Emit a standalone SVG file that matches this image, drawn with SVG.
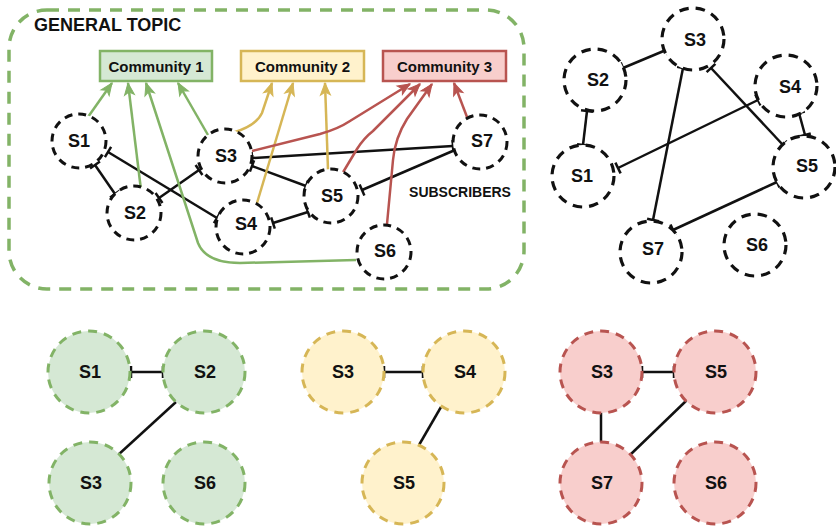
<svg xmlns="http://www.w3.org/2000/svg" width="836" height="527" viewBox="0 0 836 527">
<style>
text{font-family:"Liberation Sans",Arial,Helvetica,sans-serif;font-weight:bold;fill:#111;text-anchor:middle;dominant-baseline:central}
.lbl{font-size:18px}
.com{font-size:15px}
.n{fill:#fff;stroke:#111;stroke-width:3;stroke-dasharray:8 6}
.nr{fill:#fff;stroke:#111;stroke-width:3.2;stroke-dasharray:9.5 7}
.g{fill:#d5e8d4;stroke:#82b366;stroke-width:3;stroke-dasharray:9 7}
.y{fill:#fff2cc;stroke:#d6b656;stroke-width:3;stroke-dasharray:9 7}
.r{fill:#f8cecc;stroke:#b85450;stroke-width:3;stroke-dasharray:9 7}
.e{fill:none;stroke:#111;stroke-width:2.5;marker-start:url(#tick);marker-end:url(#tick)}
.ag{fill:none;stroke:#82b366;stroke-width:2.5;marker-end:url(#arG)}
.ay{fill:none;stroke:#d6b656;stroke-width:2.5;marker-end:url(#arY)}
.ar{fill:none;stroke:#b85450;stroke-width:2.5;marker-end:url(#arR)}
</style>
<defs>
<marker id="tick" markerUnits="userSpaceOnUse" markerWidth="4" markerHeight="14" refX="0" refY="7" orient="auto" overflow="visible">
<path d="M0,1 L0,13" stroke="#111" stroke-width="2.5"/>
</marker>
<marker id="arG" markerUnits="userSpaceOnUse" markerWidth="13" markerHeight="11" refX="12" refY="5" orient="auto" overflow="visible">
<path d="M0,0 L12,5 L0,10 L3,5 z" fill="#82b366" stroke="#82b366" stroke-width="1"/>
</marker>
<marker id="arY" markerUnits="userSpaceOnUse" markerWidth="13" markerHeight="11" refX="12" refY="5" orient="auto" overflow="visible">
<path d="M0,0 L12,5 L0,10 L3,5 z" fill="#d6b656" stroke="#d6b656" stroke-width="1"/>
</marker>
<marker id="arR" markerUnits="userSpaceOnUse" markerWidth="13" markerHeight="11" refX="12" refY="5" orient="auto" overflow="visible">
<path d="M0,0 L12,5 L0,10 L3,5 z" fill="#b85450" stroke="#b85450" stroke-width="1"/>
</marker>
</defs>

<g id="general-topic">
<rect x="9" y="10" width="515" height="279" rx="38" ry="38" fill="none" stroke="#82b366" stroke-width="3.5" stroke-dasharray="12 9"/>
<text x="34" y="25" style="font-size:18px;text-anchor:start">GENERAL TOPIC</text>
<text x="460" y="192" style="font-size:14px">SUBSCRIBERS</text>
</g>

<g id="community1"><rect x="100" y="51" width="112" height="30" fill="#d5e8d4" stroke="#82b366" stroke-width="2.5"/><text class="com" x="156" y="66">Community 1</text></g>
<g id="community2"><rect x="241" y="51" width="123" height="30" fill="#fff2cc" stroke="#d6b656" stroke-width="2.5"/><text class="com" x="302.5" y="66">Community 2</text></g>
<g id="community3"><rect x="383" y="51" width="123" height="30" fill="#f8cecc" stroke="#b85450" stroke-width="2.5"/><text class="com" x="444.5" y="66">Community 3</text></g>

<g id="connectors">
<!-- top-left black edges -->
<path class="e" d="M95,165 L115,194"/>
<path class="e" d="M108,152 L217,218"/>
<path class="e" d="M159,198 L199,170"/>
<path class="e" d="M252,158 L453,146"/>
<path class="e" d="M252,166 L306,186"/>
<path class="e" d="M273,223 L308,212"/>
<path class="e" d="M362,190 L455,150"/>
<!-- green arrows -->
<path class="ag" d="M88,117 L112,83"/>
<path class="ag" d="M141,190 L128,83"/>
<path class="ag" d="M356,260 L240,263 Q206,263 198,243 L146,83"/>
<path class="ag" d="M208,135 L178,83"/>
<!-- yellow arrows -->
<path class="ay" d="M232,133 Q256,126 262,113 L272,83"/>
<path class="ay" d="M257,203 L293,83"/>
<path class="ay" d="M328,170 L325,83"/>
<!-- red arrows -->
<path class="ar" d="M252,151 L320,134 Q338,129 350,121 L410,84"/>
<path class="ar" d="M342,174 L357,149 Q364,138 373,131 L420,84"/>
<path class="ar" d="M387,224 L393,160 Q395,138 407,119 L432,84"/>
<path class="ar" d="M467,117 L454,83"/>
<!-- right panel edges -->
<path class="e" d="M623,68 L666,50"/>
<path class="e" d="M583,145 L587,111"/>
<path class="e" d="M683,68 L653,220"/>
<path class="e" d="M711,68 L783,145"/>
<path class="e" d="M618,168 L758,100"/>
<path class="e" d="M799,113 L805,135"/>
<path class="e" d="M777,182 L673,230"/>
<!-- bottom edges -->
<path class="e" d="M131,372 L163,372"/>
<path d="M176,402 L118,455" stroke="#111" stroke-width="2.5" fill="none"/>
<path class="e" d="M384,372 L423,372"/>
<path d="M441,407 L419,445" stroke="#111" stroke-width="2.5" fill="none"/>
<path class="e" d="M642,372 L674,372"/>
<path d="M601,412 L601,443" stroke="#111" stroke-width="2.5" fill="none"/>
<path d="M687,400 L630,455" stroke="#111" stroke-width="2.5" fill="none"/>
</g>

<!-- top-left nodes -->
<g id="tl-s1"><circle class="n" cx="79" cy="141" r="27"/><text class="lbl" x="79" y="141">S1</text></g>
<g id="tl-s2"><circle class="n" cx="134" cy="213" r="27"/><text class="lbl" x="135" y="213">S2</text></g>
<g id="tl-s3"><circle class="n" cx="225" cy="156" r="27"/><text class="lbl" x="226" y="156">S3</text></g>
<g id="tl-s4"><circle class="n" cx="243" cy="227" r="27"/><text class="lbl" x="246" y="224">S4</text></g>
<g id="tl-s5"><circle class="n" cx="331" cy="196" r="27"/><text class="lbl" x="332" y="196">S5</text></g>
<g id="tl-s6"><circle class="n" cx="384" cy="252" r="27"/><text class="lbl" x="385" y="251">S6</text></g>
<g id="tl-s7"><circle class="n" cx="480" cy="142" r="27"/><text class="lbl" x="482" y="141">S7</text></g>

<!-- right panel nodes -->
<g id="r-s1"><circle class="nr" cx="583" cy="176" r="31"/><text class="lbl" x="582" y="176">S1</text></g>
<g id="r-s2"><circle class="nr" cx="595" cy="80" r="31"/><text class="lbl" x="598" y="80">S2</text></g>
<g id="r-s3"><circle class="nr" cx="693" cy="39" r="31"/><text class="lbl" x="695" y="40">S3</text></g>
<g id="r-s4"><circle class="nr" cx="786" cy="86" r="31"/><text class="lbl" x="790" y="87">S4</text></g>
<g id="r-s5"><circle class="nr" cx="804" cy="167" r="31"/><text class="lbl" x="807" y="166">S5</text></g>
<g id="r-s6"><circle class="nr" cx="755" cy="245" r="31"/><text class="lbl" x="757" y="245">S6</text></g>
<g id="r-s7"><circle class="nr" cx="651" cy="252" r="31"/><text class="lbl" x="653" y="249">S7</text></g>

<!-- bottom green -->
<g id="g-s1"><circle class="g" cx="89" cy="372" r="41"/><text class="lbl" x="90" y="372">S1</text></g>
<g id="g-s2"><circle class="g" cx="204" cy="372" r="41"/><text class="lbl" x="205" y="372">S2</text></g>
<g id="g-s3"><circle class="g" cx="90" cy="483" r="41"/><text class="lbl" x="91" y="483">S3</text></g>
<g id="g-s6"><circle class="g" cx="204" cy="483" r="41"/><text class="lbl" x="205" y="483">S6</text></g>
<!-- bottom yellow -->
<g id="y-s3"><circle class="y" cx="343" cy="372" r="41"/><text class="lbl" x="343" y="372">S3</text></g>
<g id="y-s4"><circle class="y" cx="464" cy="372" r="41"/><text class="lbl" x="465" y="372">S4</text></g>
<g id="y-s5"><circle class="y" cx="403" cy="483" r="41"/><text class="lbl" x="404" y="483">S5</text></g>
<!-- bottom red -->
<g id="r2-s3"><circle class="r" cx="601" cy="372" r="41"/><text class="lbl" x="602" y="372">S3</text></g>
<g id="r2-s5"><circle class="r" cx="715" cy="372" r="41"/><text class="lbl" x="716" y="372">S5</text></g>
<g id="r2-s7"><circle class="r" cx="601" cy="483" r="41"/><text class="lbl" x="602" y="483">S7</text></g>
<g id="r2-s6"><circle class="r" cx="715" cy="483" r="41"/><text class="lbl" x="716" y="483">S6</text></g>
</svg>
